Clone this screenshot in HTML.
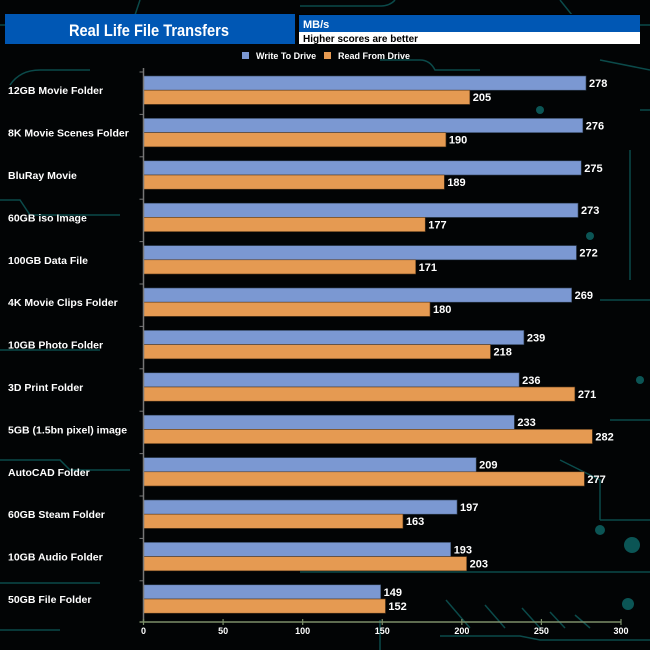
<!DOCTYPE html>
<html><head><meta charset="utf-8"><style>
body{margin:0;background:#000;}
#c{position:relative;width:650px;height:650px;overflow:hidden;background:#020405;font-family:"Liberation Sans",sans-serif;}
svg text{font-family:"Liberation Sans",sans-serif;}
</style></head><body>
<div id="c">
<svg id="s" width="650" height="650">
<g stroke="#0b4a4a" stroke-width="1.5" fill="none">
<path d="M0 25 L120 25 Q130 25 135 15 L140 0"/>
<path d="M300 6 L380 6 Q390 6 395 0"/>
<path d="M380 60 L420 60 Q430 60 435 70 L480 70"/>
<path d="M560 0 L580 25 L650 25"/>
<path d="M600 60 L650 70"/>
<path d="M640 110 L650 110"/>
<path d="M10 85 Q20 70 40 70 L90 70"/>
<path d="M0 200 L20 200 L30 215 L120 215"/>
<path d="M0 350 L100 350"/>
<path d="M0 460 L60 460 L70 470 L130 470"/>
<path d="M0 583 L100 583"/>
<path d="M0 630 L60 630"/>
<path d="M300 572 L650 572"/>
<path d="M440 636 L520 636 L540 640 L650 640"/>
<path d="M446 600 L470 628 M485 605 L505 628 M522 608 L540 628 M550 612 L565 628 M575 615 L590 628"/>
<path d="M380 620 L380 650"/>
<path d="M600 300 L650 300"/><path d="M610 420 L650 420"/><path d="M600 520 L650 520"/>
<path d="M630 150 L630 280"/><path d="M560 460 L600 480 L600 520"/>
</g>
<g fill="#0b5555">
<circle cx="628" cy="604" r="6"/><circle cx="632" cy="545" r="8"/><circle cx="600" cy="530" r="5"/>
<circle cx="590" cy="236" r="4"/><circle cx="540" cy="110" r="4"/><circle cx="640" cy="380" r="4"/>
</g>
<rect x="5" y="14" width="290" height="30" fill="#0057b4"/>
<text x="69" y="36" fill="#fff" font-size="17" font-weight="bold" textLength="160" lengthAdjust="spacingAndGlyphs">Real Life File Transfers</text>
<rect x="297" y="14" width="343" height="30" fill="#000"/>
<rect x="299" y="15" width="341" height="17" fill="#0057b4"/>
<text x="303" y="28" fill="#fff" font-size="11" font-weight="bold">MB/s</text>
<rect x="299" y="32" width="341" height="12" fill="#fff"/>
<text x="303" y="42" fill="#000" font-size="10" font-weight="bold">Higher scores are better</text>
<g font-size="9" font-weight="bold" fill="#fff">
<rect x="242" y="52" width="7" height="7" fill="#7b98d2"/>
<text x="256" y="59">Write To  Drive</text>
<rect x="324" y="52" width="7" height="7" fill="#e59a52"/>
<text x="338" y="59">Read From  Drive</text>
</g>
<g id="plot"></g>
</svg>
</div>
<script>
const categories=["12GB Movie Folder","8K Movie Scenes Folder","BluRay Movie","60GB iso Image","100GB Data File","4K Movie Clips Folder","10GB Photo Folder","3D Print Folder","5GB (1.5bn pixel) image","AutoCAD Folder","60GB Steam Folder","10GB Audio Folder","50GB File Folder"];
const writeValues=[278,276,275,273,272,269,239,236,233,209,197,193,149];
const readValues=[205,190,189,177,171,180,218,271,282,277,163,203,152];
const xTicks=[0,50,100,150,200,250,300];
const NS="http://www.w3.org/2000/svg";
const g=document.getElementById('plot');
const x0=143.5,xMax=300,pw=477.5,top0=76,pitch=42.4,bh=14.2,axisY=622;
function xs(v){return x0+v/xMax*pw;}
function rowY(i){return top0+i*pitch;}
function mk(t,a,txt){const e=document.createElementNS(NS,t);for(const k in a)e.setAttribute(k,a[k]);if(txt!=null)e.textContent=txt;g.appendChild(e);return e;}
categories.forEach((c,i)=>{
  const y=rowY(i);
  let r=mk('rect',{x:x0,y:y,width:xs(writeValues[i])-x0,height:bh,fill:'#7b98d2',stroke:'#33445a','stroke-width':0.6});
  
  
  r=mk('rect',{x:x0,y:y+bh,width:xs(readValues[i])-x0,height:bh,fill:'#e59a52',stroke:'#5a3a1a','stroke-width':0.6});
  
  
  let t=mk('text',{x:xs(writeValues[i])+3,y:y+11,fill:'#fff','font-size':11,'font-weight':'bold'},writeValues[i]);
  
  
  t=mk('text',{x:xs(readValues[i])+3,y:y+bh+11,fill:'#fff','font-size':11,'font-weight':'bold'},readValues[i]);
  
  
  t=mk('text',{x:8,y:y+bh+4,fill:'#fff','font-size':10.5,'font-weight':'bold'},c);
  
  
  const tk=mk('line',{x1:x0-4,x2:x0,y1:y-4,y2:y-4,stroke:'#777','stroke-width':1});
  
  
});
let ax=mk('line',{x1:x0,x2:x0,y1:68,y2:axisY,stroke:'#777','stroke-width':1.5});


ax=mk('line',{x1:x0-4,x2:xs(xMax),y1:axisY,y2:axisY,stroke:'#7c8f6a','stroke-width':1.5});


xTicks.forEach(v=>{
  const l=mk('line',{x1:xs(v),x2:xs(v),y1:axisY-3,y2:axisY+3,stroke:'#7c8f6a','stroke-width':1.2});
  
  
  const t=mk('text',{x:xs(v),y:axisY+12,fill:'#fff','font-size':9,'font-weight':'bold','text-anchor':'middle'},v);
  
  
});
</script>
</body></html>
